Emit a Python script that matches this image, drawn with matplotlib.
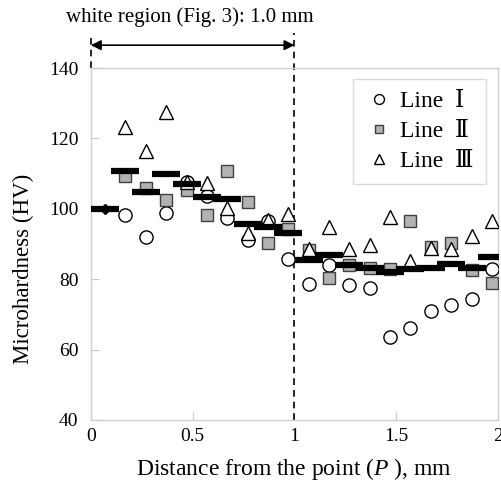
import numpy as np
import matplotlib.pyplot as plt
import matplotlib.transforms as mtransforms

plt.rcParams['font.family'] = ['Liberation Serif', 'DejaVu Serif', 'Noto Sans CJK JP']
plt.rcParams['mathtext.fontset'] = 'custom'
plt.rcParams['mathtext.rm'] = 'Liberation Serif'
plt.rcParams['mathtext.it'] = 'Liberation Serif:italic'

# distance from point P (mm)
x = [0.17, 0.27, 0.37, 0.47, 0.57, 0.67, 0.77, 0.87, 0.97, 1.07,
     1.17, 1.27, 1.37, 1.47, 1.57, 1.67, 1.77, 1.87, 1.97]
line1 = [98.2, 92.0, 98.9, 107.7, 103.7, 97.3, 91.0, 96.6, 85.7, 78.6,
         84.0, 78.4, 77.6, 63.7, 66.1, 71.0, 72.7, 74.3, 82.8]
line2 = [109.3, 105.8, 102.5, 105.3, 98.2, 110.6, 101.8, 90.2, 94.2, 88.3,
         80.4, 84.0, 83.1, 82.9, 96.6, 89.0, 90.2, 82.6, 79.0]
line3 = [123.3, 116.5, 127.5, 107.7, 107.2, 100.1, 93.0, 96.8, 98.5, 88.5,
         94.9, 88.5, 89.7, 97.8, 85.2, 88.8, 88.5, 92.3, 96.6]

# average of three lines
x_avg = [0.07] + x
avg = [100.0, 110.8, 104.8, 109.9, 107.0, 103.4, 102.9, 95.7, 94.7, 93.0,
       85.5, 86.9, 84.0, 83.1, 82.1, 82.9, 83.1, 84.2, 83.1, 86.4]

start_x = [0.07]
start_y = [100.0]

white_region = 1.0

fig = plt.figure(figsize=(5.02, 4.86), dpi=100)
ax = fig.add_axes([0.181, 0.136, 0.811, 0.724])

ax.plot(x, line1, 'o', ms=9.5, mfc='white', mec='black', mew=1.0, ls='none', label='Line  Ⅰ', zorder=3)
ax.plot(x, line2, 's', ms=8.5, mfc='#b2b2b2', mec='#404040', mew=1.0, ls='none', label='Line  Ⅱ', zorder=3)
ax.plot(x, line3, '^', ms=10.5, mfc='white', mec='black', mew=1.0, ls='none', label='Line  Ⅲ', zorder=3)
ax.plot(x_avg, avg, '_', ms=19.5, mew=4.5, color='black', ls='none', zorder=4)
ax.plot(start_x, start_y, 'D', ms=5, color='black', ls='none', zorder=5)

ax.set_xlim(0, 2)
ax.set_ylim(40, 140)
ax.set_xticks([0, 0.5, 1, 1.5, 2])
ax.set_xticklabels(['0', '0.5', '1', '1.5', '2'])
ax.set_yticks([40, 60, 80, 100, 120, 140])
ax.tick_params(direction='in', length=6, color='#c8c8c8', labelsize=14, pad=6)
ax.tick_params(axis='y', pad=9)
for s in ax.spines.values():
    s.set_color('#d0d0d0')
    s.set_linewidth(1.0)

ax.set_xlabel('Distance from the point ($P$ ), mm', fontsize=17, labelpad=8)
ax.set_ylabel('Microhardness (HV)', fontsize=16.5)
ax.yaxis.set_label_coords(-0.14, 0.43)

# white region marker
trans = mtransforms.blended_transform_factory(ax.transData, ax.transAxes)
ax.plot([0, 0], [1.0, 1.10], ls=(0, (4, 3)), color='black', lw=1.2, transform=trans, clip_on=False)
ax.plot([white_region, white_region], [0, 1.10], ls=(0, (4, 3)), color='black', lw=1.2, transform=trans, clip_on=False)
ax.annotate('', xy=(white_region, 1.065), xytext=(0, 1.065), xycoords=trans, textcoords=trans,
            arrowprops=dict(arrowstyle='<|-|>', color='black', lw=1.2, mutation_scale=15, shrinkA=0, shrinkB=0))
ax.text(0.487, 1.145, 'white region (Fig. 3): 1.0 mm', transform=trans, ha='center', va='center', fontsize=15)

leg = ax.legend(loc='upper right', bbox_to_anchor=(0.970, 0.969), borderaxespad=0, fontsize=17, frameon=True,
                fancybox=False, edgecolor='#d0d0d0', handletextpad=0.3, borderpad=0.5, labelspacing=0.35,
                markerscale=0.75, handlelength=1.2)
leg.get_frame().set_linewidth(1.0)

fig.savefig('out.png', dpi=100)
